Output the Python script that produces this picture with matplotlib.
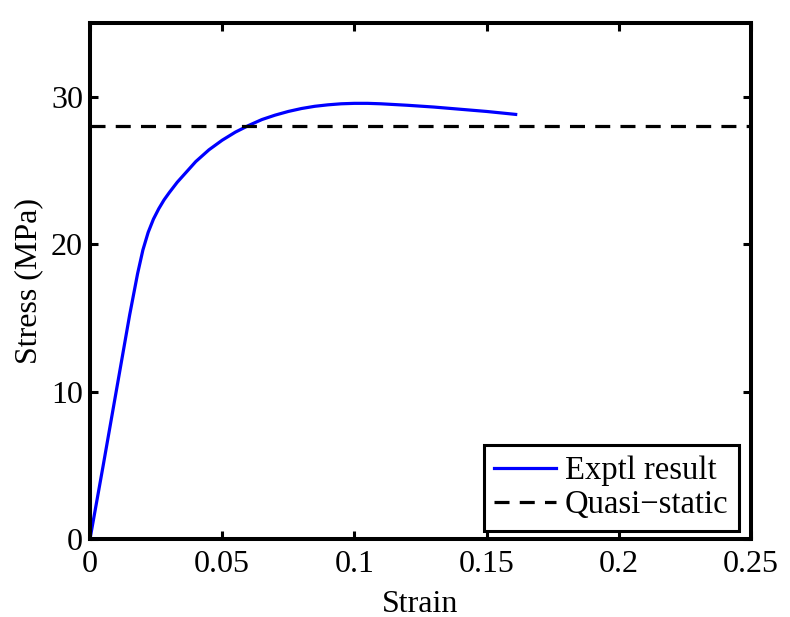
import matplotlib
matplotlib.use('Agg')
import matplotlib.pyplot as plt
import numpy as np

strain = [0, 0.005, 0.01, 0.015, 0.018, 0.02, 0.022, 0.024, 0.026, 0.028,
          0.03, 0.033, 0.036, 0.04, 0.045, 0.05, 0.055, 0.06, 0.065, 0.07,
          0.075, 0.08, 0.085, 0.09, 0.095, 0.1, 0.105, 0.11, 0.12, 0.13,
          0.14, 0.15, 0.161]
stress = [0, 5.0, 10.1, 15.2, 18.0, 19.6, 20.8, 21.7, 22.4, 23.0,
          23.5, 24.2, 24.8, 25.6, 26.4, 27.05, 27.6, 28.05, 28.45, 28.75,
          29.0, 29.2, 29.35, 29.45, 29.52, 29.55, 29.55, 29.52, 29.42, 29.3,
          29.15, 29.0, 28.8]
quasi_static = 28.0

xticks = [0, 0.05, 0.1, 0.15, 0.2, 0.25]
xticklabels = ['0', '0.05', '0.1', '0.15', '0.2', '0.25']
yticks = [0, 10, 20, 30]


def main():
    matplotlib.rcParams['font.family'] = ['Liberation Serif', 'DejaVu Serif']
    fontsize = 23

    fig = plt.figure(figsize=(7.9, 6.17), dpi=100)
    ax = fig.add_axes([90 / 790, (617 - 539) / 617, 661 / 790, 516 / 617])

    ax.plot(strain, stress, color='blue', linewidth=2.3, label='Exptl result')
    ax.axhline(quasi_static, color='black', linewidth=2.3, dashes=(4.7, 3.2),
               label='Quasi\u2212static')

    ax.set_xlim(0, 0.25)
    ax.set_ylim(0, 35)
    ax.set_xticks(xticks)
    ax.set_xticklabels(xticklabels)
    ax.set_yticks(yticks)

    for s in ax.spines.values():
        s.set_linewidth(2.9)
    ax.tick_params(direction='in', length=6, width=2.2, labelsize=fontsize,
                   top=True, right=True)
    ax.tick_params(axis='x', pad=8)
    ax.tick_params(axis='y', pad=5)

    ax.set_xlabel('Strain', fontsize=fontsize, labelpad=7.5)
    ax.set_ylabel('Stress (MPa)', fontsize=fontsize, labelpad=6)

    leg = ax.legend(loc='lower right', bbox_to_anchor=(739 / 790, 86 / 617),
                    bbox_transform=fig.transFigure, borderaxespad=0,
                    fontsize=23.5, handlelength=1.9,
                    fancybox=False, edgecolor='black', framealpha=1.0,
                    borderpad=0.33, labelspacing=0.1, handletextpad=0.25)
    leg.get_frame().set_linewidth(2.2)

    plt.savefig('out.png', dpi=100)


if __name__ == '__main__':
    main()
